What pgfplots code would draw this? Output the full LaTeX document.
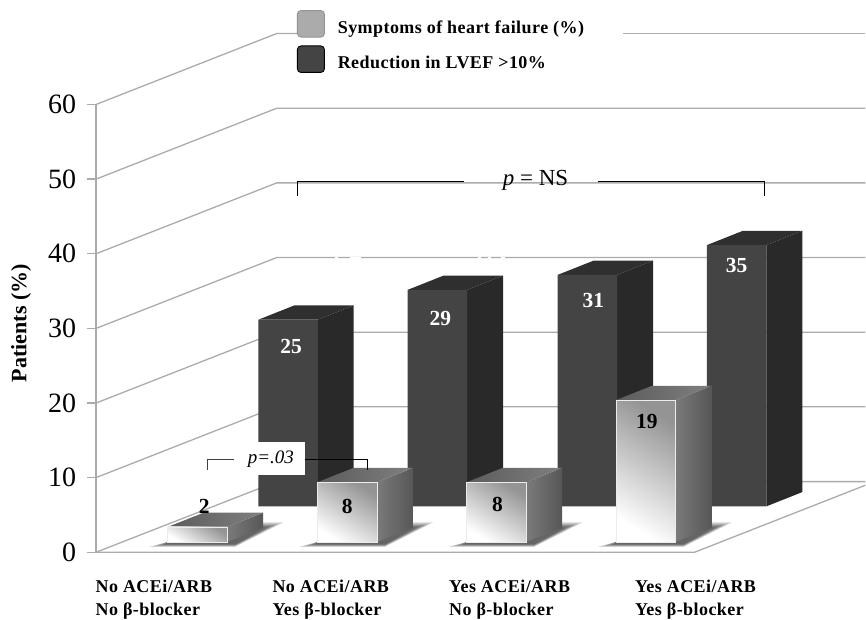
\documentclass[border=0pt]{standalone}
\usepackage{pgfplots}
\usepackage{pgfplotstable}
\usepackage{fontspec}
\pgfplotsset{compat=1.18}
\usetikzlibrary{shadings}
\setmainfont{Liberation Serif}
\newfontfamily\spaced[LetterSpace=2.5]{Liberation Serif}

\definecolor{gridgray}{HTML}{ABABAB}
\definecolor{darkface}{HTML}{444444}
\definecolor{darktop}{HTML}{2F2F2F}
\definecolor{darkside}{HTML}{292929}

% bar centre, value, label offset from the top of the bar (pt)
\pgfplotstableread{
x      v   lx   ly
288.25 25   3  -27
437.75 29   3  -29
587.75 31   6  -26
737.25 35   0  -20
}\lvefdata
\pgfplotstableread{
x      v   lx   ly
197.5  2    7   21
347.5  8    0  -24
496.8  8    1  -22
646.3  19   1  -21
}\hfdata

\pgfplotsset{
  layer/.style={
    scale only axis, width=770pt, height=448.2pt,
    xmin=96, xmax=866, clip=false,
    /pgf/number format/assume math mode=true,
  },
  overlay/.style={layer, hide axis},
  barlabels/.style={
    visualization depends on={\thisrow{lx} \as \lx},
    visualization depends on={\thisrow{ly} \as \ly},
    nodes near coords,
    every node near coord/.append style={
      anchor=center, xshift=\lx pt, yshift=\ly pt,
      font=\fontsize{21.5}{21.5}\selectfont\bfseries, text=#1},
  },
  legend image code/.code={
    \draw[#1,rounded corners=3.5pt,line width=.9pt] (0pt,-9pt) rectangle (27pt,17.5pt);
  },
}

% half width of a face, and the depth vector of the 3D extrusion
\def\hw{29.75}
\def\ddx{36}
\def\ddy{1.914}

% top and right faces of one bar
\newcommand{\barbody}[4]{%
  \pgfmathsetmacro\xl{#1-\hw}\pgfmathsetmacro\xr{#1+\hw}%
  \pgfmathsetmacro\xb{\xl+\ddx}\pgfmathsetmacro\xe{\xr+\ddx}%
  \pgfmathsetmacro\yt{#2+\ddy}%
  \addplot[#3, draw=none, forget plot] coordinates
    {(\xr,0) (\xe,\ddy) (\xe,\yt) (\xr,#2) (\xr,0)};
  \addplot[#4, draw=none, forget plot] coordinates
    {(\xl,#2) (\xb,\yt) (\xe,\yt) (\xr,#2) (\xl,#2)};
}
% contact shadow on the floor, built up from nested translucent shapes
\newcommand{\barshadow}[1]{%
  \pgfmathsetmacro\xl{#1-\hw}\pgfmathsetmacro\xr{#1+\hw}%
  \foreach \s in {0,4,8,12,16}{%
    \pgfmathsetmacro\a{\xl-18+\s}\pgfmathsetmacro\b{\xr+56-\s}%
    \pgfmathsetmacro\c{\xr+8}\pgfmathsetmacro\d{-0.65+\s*0.02}%
    \pgfmathsetmacro\e{2.6-\s*0.04}\pgfmathsetmacro\f{\xr+30}%
    \edef\shadowcmd{\noexpand\addplot[fill=black, fill opacity=0.17, draw=none, forget plot] coordinates
      {(\a,\d) (\c,\d) (\b,\e) (\f,\e) (\xl,0) (\a,\d)};}%
    \shadowcmd
  }%
}
% one shaded front face: rows before #1 and from #2 on are left out, so that
% each bar carries its own gradient
\newcommand{\hfface}[2]{%
  \addplot[ybar, bar width=59.5, bar shift=0pt, draw=white!85!gray, line width=.6pt,
    shade, bottom color=white, top color=black!42, shading angle=-32,
    barlabels=black,
    skip coords between index={0}{#1}, skip coords between index={#2}{4}]
    table[x=x,y=v] {\hfdata};
}

\begin{document}
\begin{tikzpicture}[x=1pt,y=1pt]
% page frame and wall and floor lines, in a top-left pixel frame
\begin{scope}[x=1pt,y=-1pt,shift={(-96pt,552.7pt)}]
  \path (0,0) rectangle (866,619);
  \begin{scope}[draw=gridgray,line width=1.3pt]
    \draw (96,104.6) -- (277,33.5) -- (297,33.5);
    \draw (623.5,33.5) -- (866,33.5);
    \foreach \f/\b in {179.3/108.3,254/183,328.7/257.7,403.4/332.4,478/407}
      \draw (96,\f) -- (277,\b) -- (866,\b);
    \draw (96,552.7) -- (277,482) -- (866,482);
    \draw (96,552.7) -- (695,552.7) -- (866,485.6);
  \end{scope}
  % breaks in the 30 line
  \foreach \p/\q in {335/338,350/361,478/481,488/491,501/505}
    \draw[white,line width=2pt] (\p,257.7) -- (\q,257.7);
\end{scope}

% value axis, category labels and legend
\begin{axis}[
  layer, ymin=0, ymax=60,
  axis y line*=left, axis x line*=bottom,
  x axis line style={draw=none},
  y axis line style={gridgray,line width=1.3pt},
  xtick={154,331,510,696},
  xticklabels={{No ACEi/ARB\\No β-blocker},{No ACEi/ARB\\Yes β-blocker},
               {Yes ACEi/ARB\\No β-blocker},{Yes ACEi/ARB\\Yes β-blocker}},
  xticklabel style={align=left,font=\fontsize{18}{23}\spaced\bfseries,inner sep=0pt,yshift=-19pt},
  xtick style={draw=none},
  ytick={0,10,...,60},
  ytick pos=left,
  ytick style={gridgray,line width=1.3pt},
  tick align=outside, major tick length=8.7pt,
  yticklabel style={font=\fontsize{28}{28}\selectfont,inner sep=0pt,xshift=-11pt},
  ylabel={Patients (\%)},
  every axis y label/.style={at={(axis cs:21,30.7)},rotate=90,anchor=center,
    font=\fontsize{22}{22}\selectfont\bfseries},
  legend style={at={(0.261,1.211)},anchor=north west,draw=none,fill=none,
    inner sep=0pt,row sep=8pt,
    font=\fontsize{18}{18}\spaced\bfseries,
    /tikz/every odd column/.style={column sep=11pt}},
  legend cell align=left,
]
\addlegendimage{draw=gray!85,fill=gridgray}
\addlegendentry{Symptoms of heart failure (\%)}
\addlegendimage{draw=black,fill=darkface}
\addlegendentry{Reduction in LVEF >10\%}
\end{axis}

% rear row of bars: reduction in LVEF
\begin{axis}[overlay, ymin=-6.158, ymax=53.842]
\pgfplotsinvokeforeach{0,...,3}{
  \pgfplotstablegetelem{#1}{x}\of\lvefdata\let\bx\pgfplotsretval
  \pgfplotstablegetelem{#1}{v}\of\lvefdata\let\bv\pgfplotsretval
  \barbody{\bx}{\bv}{fill=darkside}{fill=darktop}
}
\addplot[ybar, bar width=59.5, bar shift=0pt, fill=darkface, draw=none, barlabels=white]
  table[x=x,y=v] {\lvefdata};
\end{axis}

% label box standing in front of the rear row
\begin{scope}[x=1pt,y=-1pt,shift={(-96pt,552.7pt)}]
  \fill[white] (240,442) rectangle (305.7,475.7);
\end{scope}

% front row of bars: symptoms of heart failure
\begin{axis}[overlay, ymin=-1.392, ymax=58.608]
\pgfplotsinvokeforeach{0,...,3}{
  \pgfplotstablegetelem{#1}{x}\of\hfdata\let\bx\pgfplotsretval
  \barshadow{\bx}
}
\pgfplotsinvokeforeach{0,...,3}{
  \pgfplotstablegetelem{#1}{x}\of\hfdata\let\bx\pgfplotsretval
  \pgfplotstablegetelem{#1}{v}\of\hfdata\let\bv\pgfplotsretval
  \barbody{\bx}{\bv}{shade, left color=black!52, right color=black!66}
                    {shade, left color=black!64, right color=black!50}
}
\hfface{0}{1}
\hfface{1}{2}
\hfface{2}{3}
\hfface{3}{4}
\end{axis}

% significance brackets
\begin{scope}[x=1pt,y=-1pt,shift={(-96pt,552.7pt)}]
  \draw[black,line width=1.2pt] (297.7,196) -- (297.7,182) -- (464,182);
  \draw[black,line width=1.2pt] (598,182) -- (764.7,182) -- (764.7,196);
  \node[font=\fontsize{23}{23}\selectfont] at (536,180) {\textit{p} = NS};
  \draw[black!75,line width=1.2pt] (208,470) -- (208,460) -- (234,460);
  \draw[black,line width=1.2pt] (305.7,460) -- (367.7,460) -- (367.7,470);
  \node[font=\fontsize{19}{19}\selectfont\itshape] at (271,460) {p=.03};
\end{scope}
\end{tikzpicture}
\end{document}
